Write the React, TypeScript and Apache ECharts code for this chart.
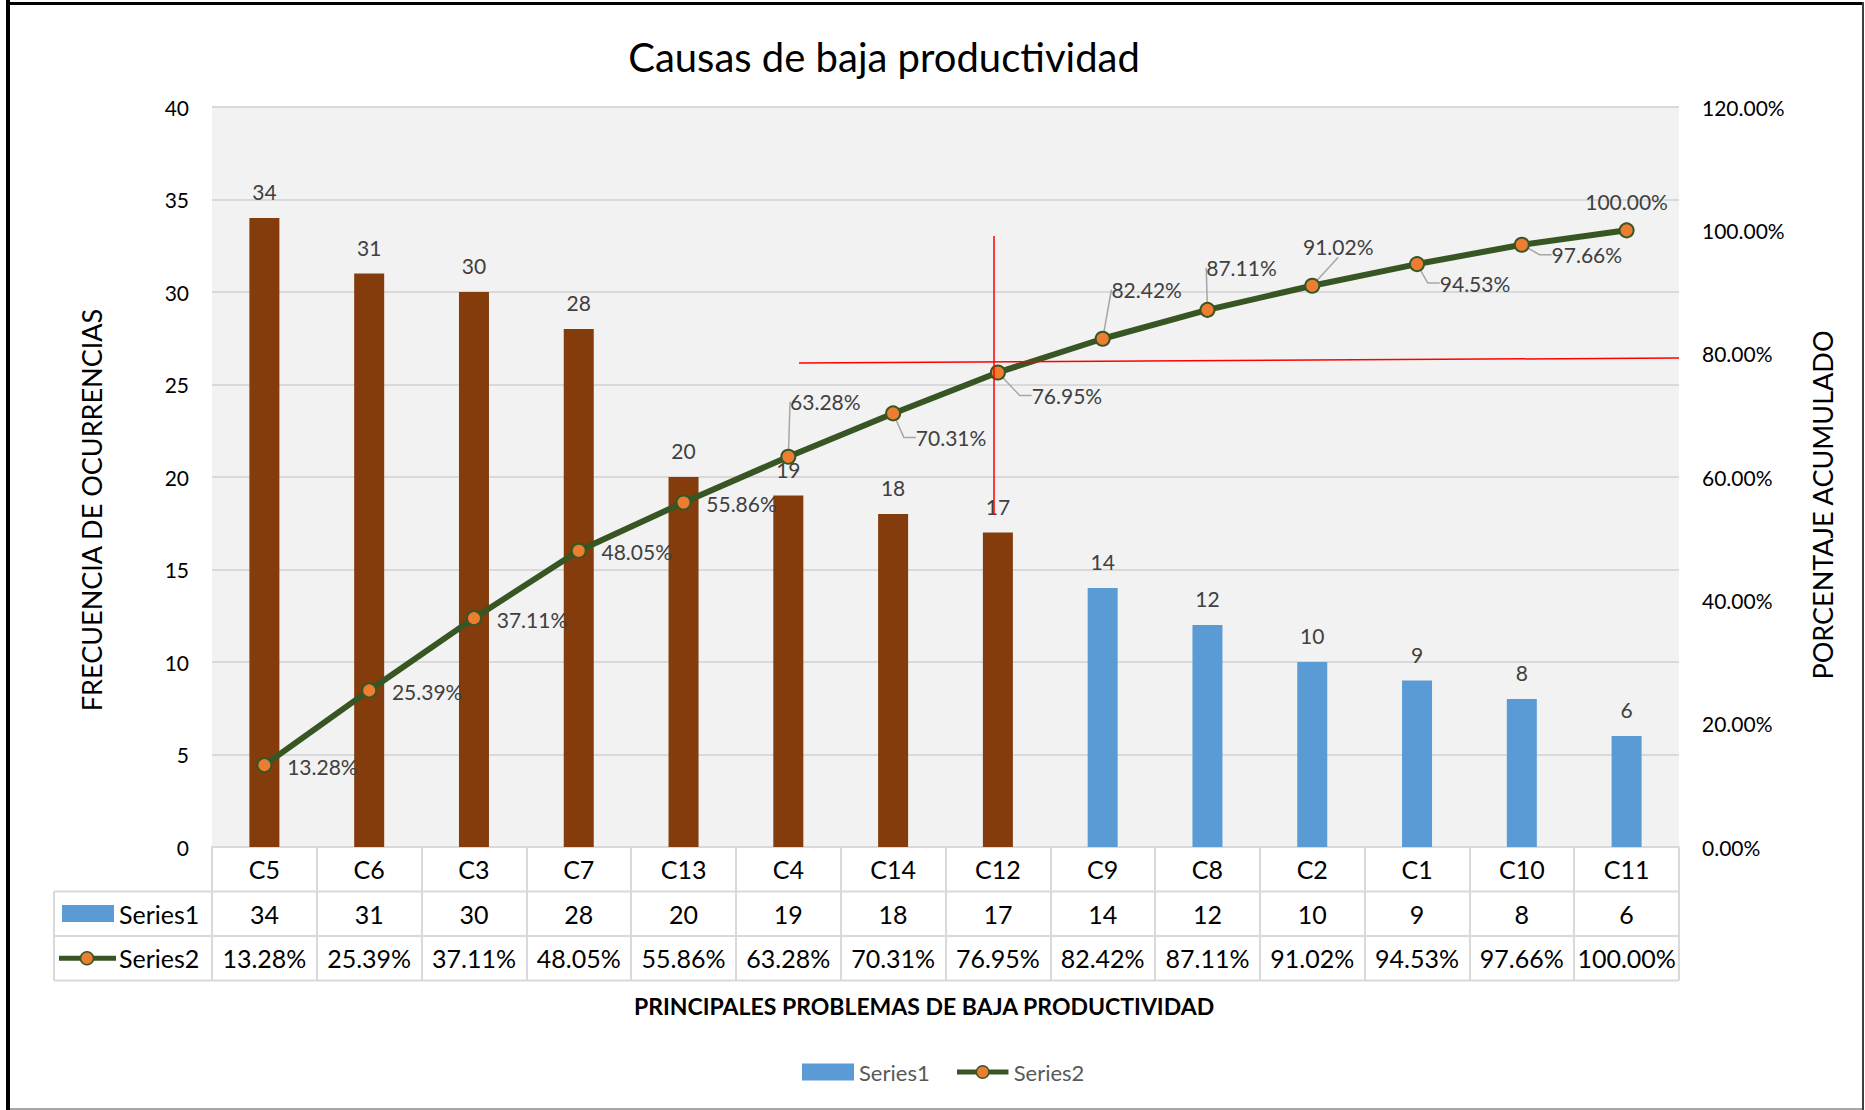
import React, { useEffect, useRef } from 'react';
import * as echarts from 'echarts';

// ---------- data ----------
const categories = ['C5', 'C6', 'C3', 'C7', 'C13', 'C4', 'C14', 'C12', 'C9', 'C8', 'C2', 'C1', 'C10', 'C11'];
const frequencies = [34, 31, 30, 28, 20, 19, 18, 17, 14, 12, 10, 9, 8, 6];
const cumulativePct = [13.28, 25.39, 37.11, 48.05, 55.86, 63.28, 70.31, 76.95, 82.42, 87.11, 91.02, 94.53, 97.66, 100.0];
const seriesNames = ['Series1', 'Series2'];
const vitalFewCount = 8;
const titleText = 'Causas de baja productividad';
const xAxisTitle = 'PRINCIPALES PROBLEMAS DE BAJA PRODUCTIVIDAD';
const leftAxisTitle = 'FRECUENCIA DE OCURRENCIAS';
const rightAxisTitle = 'PORCENTAJE ACUMULADO';
const leftAxisMax = 40;
const leftAxisStep = 5;
const rightAxisMax = 120;
const rightAxisStep = 20;

// ---------- layout / style ----------
const W = 1865;
const H = 1110;
const GRID_L = 212;
const GRID_R = 1679;
const GRID_T = 107;
const GRID_B = 847;
const TABLE_L = 54;
const ROWS = [847, 891.5, 936, 980.5];
const FONT = 'Lato, "Open Sans", sans-serif';
const BROWN = '#843C0C';
const BLUE = '#5B9BD5';
const GREEN = '#375623';
const ORANGE = '#ED7D31';
const GRID_GREY = '#D9D9D9';
const labelShift: [number, number][] = [
  [58, 1], [58, 1], [58, 1], [58, 1], [58, 1], [37, -55], [58, 24],
  [69, 23], [44, -49], [34, -42], [26, -39], [58, 19], [65, 10], [0, -29],
];
const leaderShown = [false, false, false, false, false, true, true, true, true, true, true, true, true, false];
const leaderTail = [0, 0, 0, 0, 0, 0, 12, 12, 0, 0, 0, 12, 12, 0];

const lineLegendSvg =
  'image://data:image/svg+xml;utf8,' +
  encodeURIComponent(
    '<svg xmlns="http://www.w3.org/2000/svg" width="54" height="17" viewBox="0 0 54 17">' +
      `<line x1="0" y1="8.5" x2="54" y2="8.5" stroke="${GREEN}" stroke-width="5"/>` +
      `<circle cx="27" cy="8.5" r="6.5" fill="${ORANGE}" stroke="${GREEN}" stroke-width="1.5"/>` +
      '</svg>'
  );

const fmtPct = (v: number) => v.toFixed(2) + '%';

export default function App() {
  const ref = useRef<HTMLDivElement>(null);

  useEffect(() => {
    document.body.style.margin = '0';
    if (!ref.current) return;
    const chart = echarts.init(ref.current, undefined, { renderer: 'svg' });

    const n = categories.length;
    const colW = (GRID_R - GRID_L) / n;
    const colX = (i: number) => GRID_L + colW * (i + 0.5);
    const row2Y = (ROWS[1] + ROWS[2]) / 2;
    const row3Y = (ROWS[2] + ROWS[3]) / 2;

    const tableTexts: any[] = [];
    frequencies.forEach((v, i) => {
      tableTexts.push({
        type: 'text', x: colX(i), y: row2Y,
        style: { text: String(v), fill: '#000', font: `25px ${FONT}`, align: 'center', verticalAlign: 'middle' },
      });
    });
    cumulativePct.forEach((v, i) => {
      tableTexts.push({
        type: 'text', x: colX(i), y: row3Y,
        style: { text: fmtPct(v), fill: '#000', font: `25px ${FONT}`, align: 'center', verticalAlign: 'middle' },
      });
    });

    const gridLine = { stroke: GRID_GREY, lineWidth: 2 };

    const graphic: any[] = [
      // outer frame
      { type: 'rect', shape: { x: 6, y: 0, width: 4, height: H }, style: { fill: '#000' }, silent: true },
      { type: 'rect', shape: { x: 6, y: 2, width: 1858, height: 3 }, style: { fill: '#000' }, silent: true },
      { type: 'rect', shape: { x: 1862, y: 2, width: 2, height: H }, style: { fill: '#404040' }, silent: true },
      { type: 'line', shape: { x1: 10, y1: 1109, x2: 1862, y2: 1109 }, style: { stroke: '#A6A6A6', lineWidth: 2 }, silent: true },
      // title
      {
        type: 'text', x: 884, y: 57,
        style: { text: titleText, fill: '#000', font: `40px ${FONT}`, align: 'center', verticalAlign: 'middle' },
      },
      // axis titles
      {
        type: 'text', x: 91, y: 510, rotation: Math.PI / 2,
        style: { text: leftAxisTitle, fill: '#000', font: `27px ${FONT}`, align: 'center', verticalAlign: 'middle' },
      },
      {
        type: 'text', x: 1822, y: 505, rotation: Math.PI / 2,
        style: { text: rightAxisTitle, fill: '#000', font: `27px ${FONT}`, align: 'center', verticalAlign: 'middle' },
      },
      {
        type: 'text', x: 924, y: 1006,
        style: { text: xAxisTitle, fill: '#000', font: `bold 23px ${FONT}`, align: 'center', verticalAlign: 'middle' },
      },
      // data table lines
      { type: 'line', shape: { x1: TABLE_L, y1: ROWS[1], x2: GRID_R, y2: ROWS[1] }, style: gridLine, silent: true },
      { type: 'line', shape: { x1: TABLE_L, y1: ROWS[2], x2: GRID_R, y2: ROWS[2] }, style: gridLine, silent: true },
      { type: 'line', shape: { x1: TABLE_L, y1: ROWS[3], x2: GRID_R, y2: ROWS[3] }, style: gridLine, silent: true },
      { type: 'line', shape: { x1: TABLE_L, y1: ROWS[1], x2: TABLE_L, y2: ROWS[3] }, style: gridLine, silent: true },
      // table legend keys
      { type: 'rect', shape: { x: 62, y: 905, width: 52, height: 17 }, style: { fill: BLUE } },
      {
        type: 'text', x: 119, y: row2Y,
        style: { text: seriesNames[0], fill: '#000', font: `25px ${FONT}`, align: 'left', verticalAlign: 'middle' },
      },
      { type: 'line', shape: { x1: 59, y1: row3Y, x2: 116, y2: row3Y }, style: { stroke: GREEN, lineWidth: 5 } },
      { type: 'circle', shape: { cx: 87, cy: row3Y, r: 6.5 }, style: { fill: ORANGE, stroke: GREEN, lineWidth: 1.5 } },
      {
        type: 'text', x: 119, y: row3Y,
        style: { text: seriesNames[1], fill: '#000', font: `25px ${FONT}`, align: 'left', verticalAlign: 'middle' },
      },
      ...tableTexts,
      // red annotation lines
      { type: 'line', z: 100, shape: { x1: 994, y1: 236, x2: 994, y2: 515 }, style: { stroke: '#FF0000', lineWidth: 1.5 } },
      { type: 'line', z: 100, shape: { x1: 799, y1: 363, x2: GRID_R, y2: 358 }, style: { stroke: '#FF0000', lineWidth: 1.5 } },
    ];

    chart.setOption({
      animation: false,
      backgroundColor: '#fff',
      textStyle: { fontFamily: FONT },
      grid: {
        left: GRID_L, right: W - GRID_R, top: GRID_T, bottom: H - GRID_B,
        show: true, backgroundColor: '#F2F2F2', borderWidth: 0,
      },
      legend: {
        left: 802, top: 1061, padding: 0, itemGap: 27, itemWidth: 52, itemHeight: 17,
        textStyle: { fontSize: 22, color: '#595959', fontFamily: FONT, padding: [0, 0, 0, 0] },
        data: [{ name: seriesNames[0], icon: 'rect' }, { name: seriesNames[1], icon: lineLegendSvg }],
      },
      xAxis: {
        type: 'category',
        data: categories,
        axisLine: { show: true, lineStyle: { color: GRID_GREY, width: 2 } },
        axisTick: { show: true, length: ROWS[3] - ROWS[0], interval: 0, lineStyle: { color: GRID_GREY, width: 2 } },
        axisLabel: { color: '#000', fontSize: 25, fontFamily: FONT, margin: 22, verticalAlign: 'middle', interval: 0 },
      },
      yAxis: [
        {
          type: 'value', min: 0, max: leftAxisMax, interval: leftAxisStep,
          axisLine: { show: false }, axisTick: { show: false },
          axisLabel: { color: '#000', fontSize: 21, fontFamily: FONT, margin: 23 },
          splitLine: { lineStyle: { color: GRID_GREY, width: 2 } },
        },
        {
          type: 'value', min: 0, max: rightAxisMax, interval: rightAxisStep,
          axisLine: { show: false }, axisTick: { show: false },
          axisLabel: { color: '#000', fontSize: 21, fontFamily: FONT, margin: 23, formatter: (v: number) => fmtPct(v) },
          splitLine: { show: false },
        },
      ],
      series: [
        {
          name: seriesNames[0],
          type: 'bar',
          barWidth: 30,
          itemStyle: { color: BLUE },
          data: frequencies.map((v, i) => ({
            value: v,
            itemStyle: { color: i < vitalFewCount ? BROWN : BLUE },
          })),
          label: { show: true, position: 'top', distance: 16, color: '#404040', fontSize: 21, fontFamily: FONT },
        },
        {
          name: seriesNames[1],
          type: 'line',
          yAxisIndex: 1,
          symbol: 'circle',
          symbolSize: 14,
          lineStyle: { color: GREEN, width: 6 },
          itemStyle: { color: ORANGE, borderColor: GREEN, borderWidth: 2 },
          data: cumulativePct.map((v, i) => ({
            value: v,
            labelLine: { show: leaderShown[i], length2: leaderTail[i] },
          })),
          label: {
            show: true, position: 'inside', color: '#404040', fontSize: 21, fontFamily: FONT,
            textBorderWidth: 0, align: 'center', verticalAlign: 'middle',
            formatter: (p: any) => fmtPct(p.value),
          },
          labelLine: { show: false, length2: 12, lineStyle: { color: '#A6A6A6', width: 1.5 } },
          labelLayout: (p: any) => ({ dx: labelShift[p.dataIndex][0], dy: labelShift[p.dataIndex][1] }),
        },
      ],
      graphic,
    });

    return () => chart.dispose();
  }, []);

  return (
    <div
      ref={ref}
      style={{ position: 'absolute', left: 0, top: 0, width: W, height: H, background: '#fff' }}
    />
  );
}
